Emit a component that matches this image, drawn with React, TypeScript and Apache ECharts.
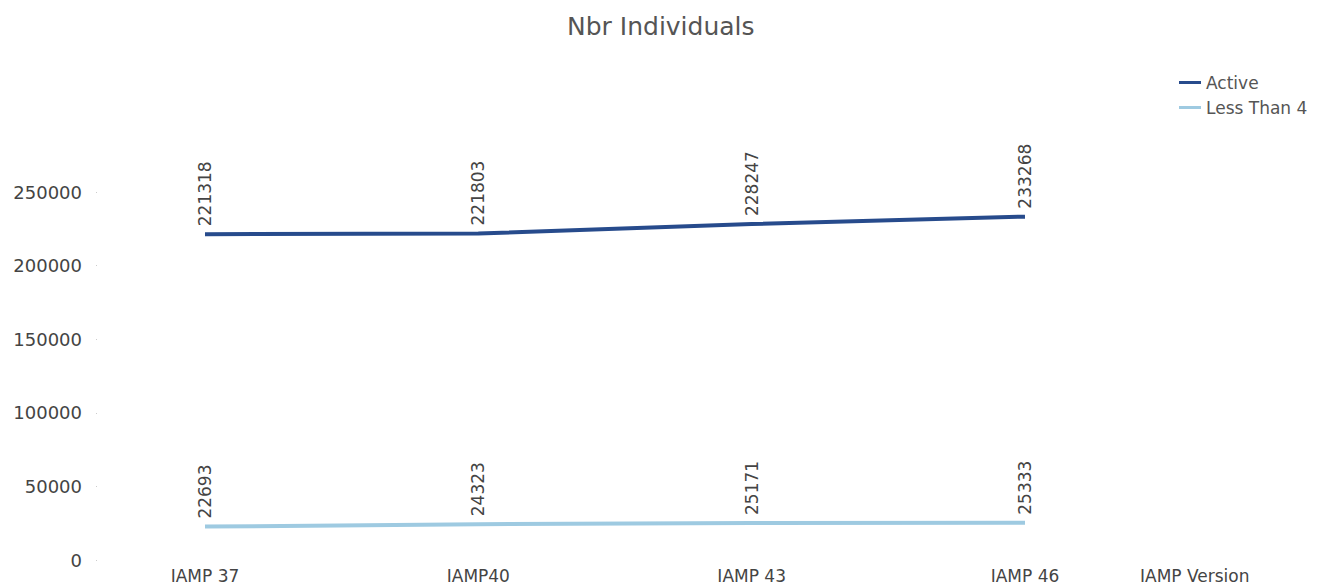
import React, { useEffect, useRef } from "react";
import * as echarts from "echarts";

const categories = ["IAMP 37", "IAMP40", "IAMP 43", "IAMP 46"];
const activeValues = [221318, 221803, 228247, 233268];
const lessThan4Values = [22693, 24323, 25171, 25333];
const yTicks = [0, 50000, 100000, 150000, 200000, 250000];

export default function App() {
  const ref = useRef<HTMLDivElement>(null);
  useEffect(() => {
    if (!ref.current) return;
    const chart = echarts.init(ref.current, undefined, { renderer: "svg" });
    const font = "DejaVu Sans";
    const labelCfg = {
      show: true,
      position: "top" as const,
      rotate: 90,
      align: "left" as const,
      verticalAlign: "middle" as const,
      distance: 9,
      fontFamily: font,
      fontSize: 17,
      color: "#444",
      offset: [-1, 0],
    };
    chart.setOption({
      animation: false,
      backgroundColor: "#fff",
      title: {
        text: "Nbr Individuals",
        left: 562,
        top: 9,
        textStyle: { fontFamily: font, fontSize: 25, fontWeight: "normal", color: "#555" },
      },
      legend: {
        orient: "vertical",
        left: 1174,
        top: 69,
        icon: "rect",
        itemWidth: 22,
        itemHeight: 3,
        itemGap: 8,
        textStyle: { fontFamily: font, fontSize: 17, color: "#555" },
        data: ["Active", "Less Than 4"],
      },
      grid: { left: 205, right: 317, top: 192, bottom: 27, containLabel: false },
      xAxis: {
        type: "category",
        data: categories,
        boundaryGap: false,
        axisLine: { show: false },
        axisTick: { show: false },
        axisLabel: { fontFamily: font, fontSize: 17, color: "#444", margin: 7 },
        name: "IAMP Version",
        nameLocation: "end",
        nameGap: 115,
        nameTextStyle: {
          fontFamily: font,
          fontSize: 17,
          color: "#444",
          align: "left",
          verticalAlign: "top",
          padding: [7, 0, 0, 0],
        },
      },
      yAxis: {
        type: "value",
        min: yTicks[0],
        max: yTicks[yTicks.length - 1],
        interval: 50000,
        offset: 108,
        axisLine: { show: false },
        axisTick: { show: true, length: 1, lineStyle: { color: "#ccc" } },
        splitLine: { show: false },
        axisLabel: {
          fontFamily: font,
          fontSize: 18,
          color: "#444",
          margin: 15,
          formatter: (v: number) => String(v),
        },
      },
      series: [
        {
          name: "Active",
          type: "line",
          data: activeValues,
          showSymbol: true,
          symbol: "circle",
          symbolSize: 0,
          lineStyle: { width: 4, color: "#274b8c" },
          itemStyle: { color: "#274b8c" },
          label: labelCfg,
        },
        {
          name: "Less Than 4",
          type: "line",
          data: lessThan4Values,
          showSymbol: true,
          symbol: "circle",
          symbolSize: 0,
          lineStyle: { width: 4, color: "#9ecae1" },
          itemStyle: { color: "#9ecae1" },
          label: labelCfg,
        },
      ],
    });
    return () => chart.dispose();
  }, []);
  return <div ref={ref} style={{ width: 1342, height: 587, position: "absolute", left: 0, top: 0 }} />;
}
